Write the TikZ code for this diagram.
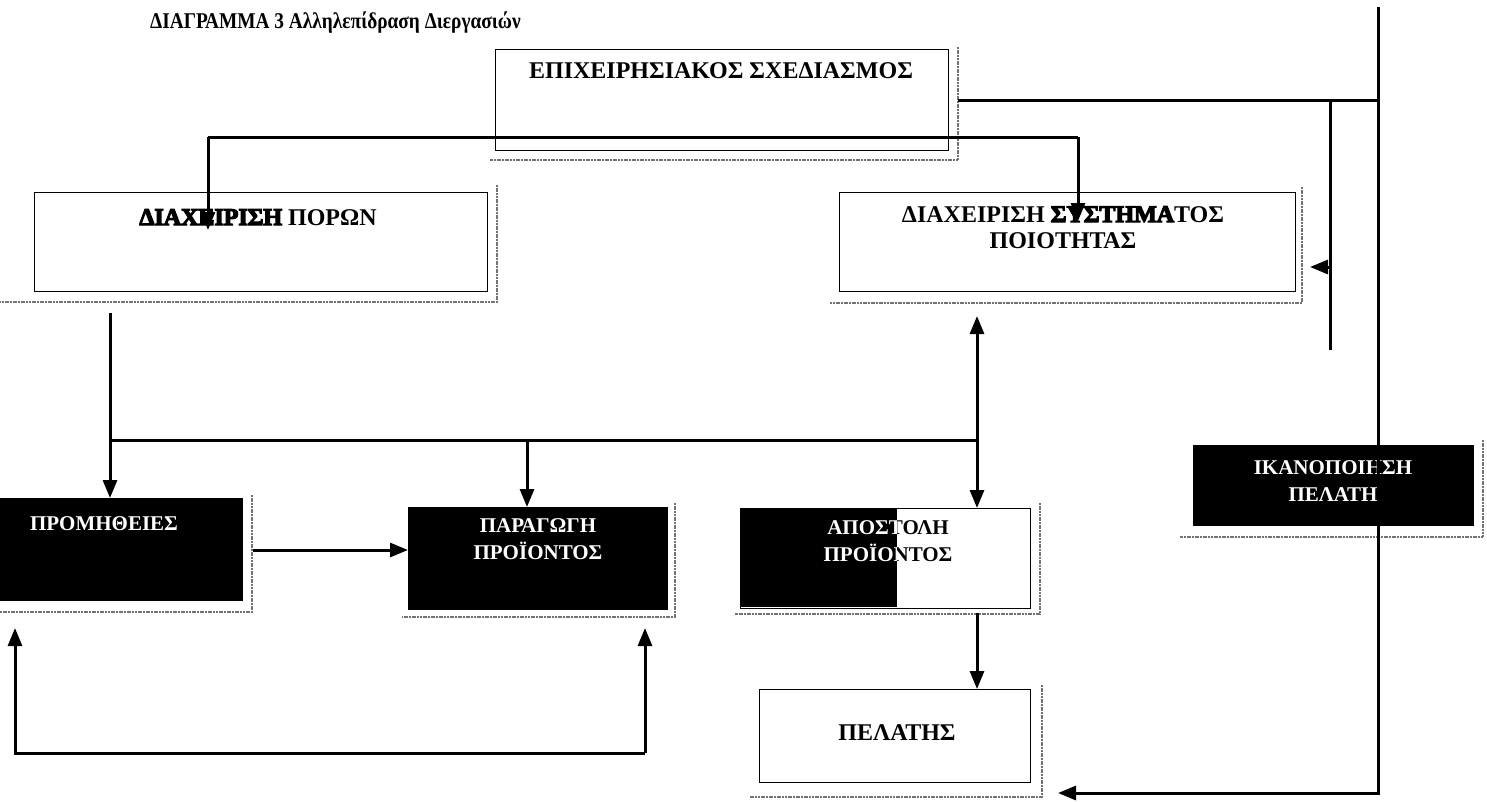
\documentclass[tikz,border=0pt]{standalone}
\usepackage{fontspec}
\setmainfont{Liberation Serif}
\newfontfamily\heavyfont{Liberation Serif Bold}[FakeBold=5]
\newfontfamily\titlefont{Liberation Serif Bold}[FakeStretch=0.86]
\usetikzlibrary{arrows.meta,calc}
\begin{document}
\begin{tikzpicture}[x=1pt,y=-1pt,
  box/.style={draw, line width=1.3pt, fill=white, inner sep=0pt, anchor=north west},
  dark/.style={box, fill=black},
  shade/.style={draw=black!55, line width=2pt, dash pattern=on 2pt off 0.7pt},
  conn/.style={line width=3pt},
  tip/.style={-{Triangle[length=18pt,width=14pt]}},
  both/.style={{Triangle[length=18pt,width=14pt]}-{Triangle[length=18pt,width=14pt]}},
  lbl/.style={font=\fontsize{24}{26}\selectfont\bfseries, inner sep=0pt, align=center},
  wlbl/.style={lbl, font=\fontsize{21}{27}\selectfont\bfseries, text=white},
]
% page
\fill[white] (0,0) rectangle (1487,801);
\useasboundingbox (0,0) rectangle (1487,801);

% title
\node[anchor=base west, inner sep=0pt, font=\fontsize{22.5}{24}\titlefont] (title) at (150,28)
  {ΔΙΑΓΡΑΜΜΑ 3 Αλληλεπίδραση Διεργασιών};

% drop shadows of the boxes
\draw[shade] (958,47) -- (958,160) -- (490,160);
\draw[shade] (497,185) -- (497,302) -- (0,302);
\draw[shade] (1302,187) -- (1302,303) -- (830,303);
\draw[shade] (252,495) -- (252,612) -- (0,612);
\draw[shade] (675,503) -- (675,617) -- (402,617);
\draw[shade] (1040,503) -- (1040,614) -- (735,614);
\draw[shade] (1483,440) -- (1483,537) -- (1180,537);
\draw[shade] (1042,685) -- (1042,797) -- (750,797);

% boxes
\node[box, minimum width=453pt, minimum height=101pt] (plan) at (495,49) {};
\node[box, minimum width=453pt, minimum height=99pt] (res) at (34,192) {};
\node[box, minimum width=456pt, minimum height=99pt] (qms) at (839,192) {};
\node[dark, minimum width=244pt, minimum height=102pt] (buy) at (-2,498) {};
\node[dark, minimum width=259pt, minimum height=102pt] (prod) at (408,507) {};
\node[box, minimum width=290pt, minimum height=100pt] (ship) at (740,508) {};
\node[dark, minimum width=280pt, minimum height=80pt] (sat) at (1193,445) {};
\node[box, minimum width=271pt, minimum height=93pt] (cust) at (759,689) {};

% box texts
\node[lbl, anchor=base] (planT) at (721,78) {ΕΠΙΧΕΙΡΗΣΙΑΚΟΣ ΣΧΕΔΙΑΣΜΟΣ};
\node[lbl, anchor=base] (resT) at (258,225) {{\heavyfont ΔΙΑΧΕΙΡΙΣΗ} ΠΟΡΩΝ};
\node[lbl, anchor=north] (qmsT) at (1063,206) {ΔΙΑΧΕΙΡΙΣΗ {\heavyfont ΣΥΣΤΗΜΑ}ΤΟΣ\\ΠΟΙΟΤΗΤΑΣ};
\node[wlbl, anchor=base] (buyT) at (104,530) {ΠΡΟΜΗΘΕΙΕΣ};
\node[wlbl, anchor=north] (prodT) at (538,518) {ΠΑΡΑΓΩΓΗ\\ΠΡΟΪΟΝΤΟΣ};
\node[lbl, font=\fontsize{21}{27}\selectfont\bfseries, anchor=north] (shipT) at (888,520) {ΑΠΟΣΤΟΛΗ\\ΠΡΟΪΟΝΤΟΣ};
\node[wlbl, anchor=north] (satT) at (1333,460) {ΙΚΑΝΟΠΟΙΗΣΗ\\ΠΕΛΑΤΗ};
\node[lbl, anchor=base] (custT) at (897,740) {ΠΕΛΑΤΗΣ};

% dark left part of the dispatch box (inverts what lies under it)
\begin{scope}[blend mode=difference]
  \fill[white] (740.6,508.6) rectangle (897,607.4);
\end{scope}

% junction points of the connectors
\coordinate (topL) at (208,137);
\coordinate (topR) at (1078,137);
\coordinate (resIn) at (208,230);
\coordinate (qmsIn) at (1078,221);
\coordinate (planE) at (958,100);
\coordinate (railTop) at (1378,7);
\coordinate (railJ) at (1378,100);
\coordinate (railBot) at (1378,793);
\coordinate (custIn) at (1058,793);
\coordinate (fbTop) at (1330,100);
\coordinate (fbBot) at (1330,350);
\coordinate (fbJ) at (1330,267);
\coordinate (qmsE) at (1310,267);
\coordinate (resOut) at (110,313);
\coordinate (busL) at (110,440);
\coordinate (busM) at (527,440);
\coordinate (busR) at (977,440);
\coordinate (qmsB) at (977,316);
\coordinate (loopR) at (645,753);
\coordinate (loopL) at (15,753);
\coordinate (buyB) at (15,628);
\coordinate (prodB) at (645,628);

% planning -> resources / quality system
\draw[conn] (topL) -- (topR);
\draw[conn, tip] (topL) -- (resIn);
\draw[conn, tip] (topR) -- (qmsIn);

% planning -> outer rail and feedback to the quality system
\draw[conn] (planE) -- (railJ);
\draw[conn] (fbTop) -- (fbBot);
\draw[conn, tip] (fbJ) -- (qmsE);
\draw[conn, tip] (railTop) -- (railBot) -- (custIn);

% resources -> process bus
\draw[conn] (resOut) -- (busL) -- (busR);
\draw[conn, tip] (busL) -- (buy.north -| busL);
\draw[conn, tip] (busM) -- (prod.north -| busM);
\draw[conn, both] (qmsB) -- (ship.north -| busR);
\draw[conn, tip] (buy.east |- 0,550) ++(10,0) -- (prod.west |- 0,550);
\draw[conn, tip] (ship.south -| busR) ++(0,4) -- (cust.north -| busR);

% return loop under the first two boxes
\draw[conn, tip] (loopR) -- (loopL) -- (buyB);
\draw[conn, tip] (loopR) -- (prodB);
\end{tikzpicture}
\end{document}
